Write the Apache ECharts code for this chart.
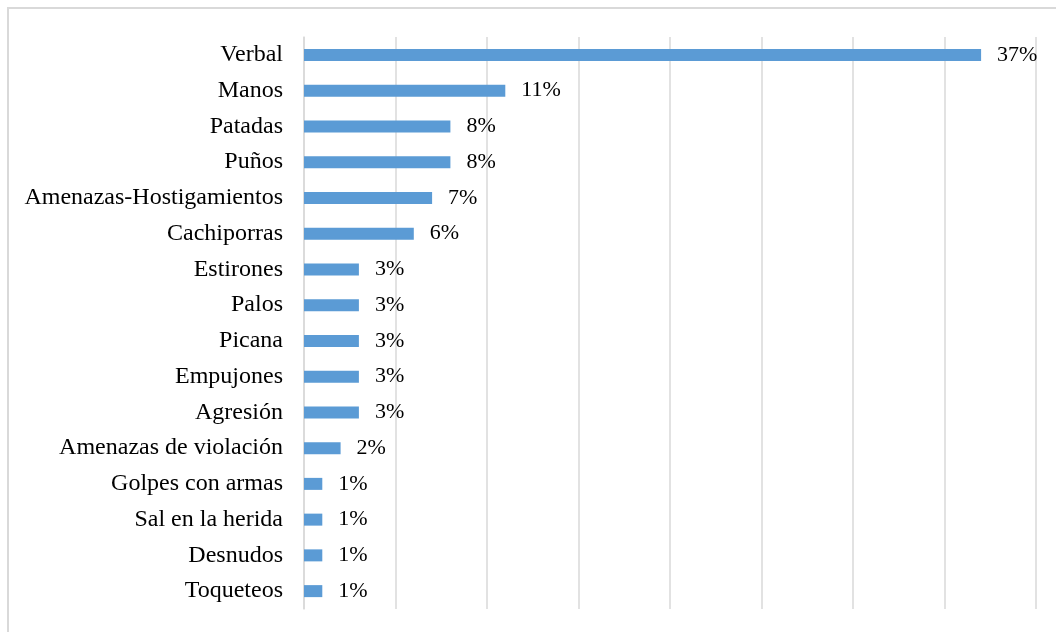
<!DOCTYPE html>
<html>
<head>
<meta charset="utf-8">
<script src="https://cdn.jsdelivr.net/npm/echarts@6/dist/echarts.min.js"></script>
<style>
  html, body { margin: 0; padding: 0; background: #fff; }
  #chart { width: 1056px; height: 632px; }
</style>
</head>
<body>
<div id="chart"></div>
<script>
// categories from top to bottom, as in the picture
const categories = [
  'Verbal', 'Manos', 'Patadas', 'Puños', 'Amenazas-Hostigamientos',
  'Cachiporras', 'Estirones', 'Palos', 'Picana', 'Empujones', 'Agresión',
  'Amenazas de violación', 'Golpes con armas', 'Sal en la herida',
  'Desnudos', 'Toqueteos'
]
const percents = [37, 11, 8, 8, 7, 6, 3, 3, 3, 3, 3, 2, 1, 1, 1, 1]

const serif = '"Liberation Serif", "DejaVu Serif", serif'
const chart = echarts.init(document.getElementById('chart'))

chart.setOption({
  animation: false,
  graphic: [{
    type: 'rect',
    shape: { x: 8, y: 8, width: 1200, height: 800 },
    style: { fill: 'none', stroke: '#d9d9d9', lineWidth: 2 },
    silent: true
  }],
  grid: { left: 304, right: 20, top: 37, bottom: 23 },
  xAxis: {
    type: 'value',
    min: 0,
    max: 40,
    interval: 5,
    axisLabel: { show: false },
    axisLine: { show: false },
    axisTick: { show: false },
    splitLine: { lineStyle: { color: '#d9d9d9', width: 1.5 } }
  },
  yAxis: {
    type: 'category',
    inverse: true,
    data: categories,
    axisTick: { show: false },
    axisLine: { show: true, lineStyle: { color: '#d9d9d9', width: 1.5 } },
    axisLabel: { color: '#000', fontFamily: serif, fontSize: 24, margin: 21 }
  },
  series: [{
    type: 'bar',
    data: percents,
    barWidth: 12,
    itemStyle: { color: '#5b9bd5' },
    label: {
      show: true,
      position: 'right',
      distance: 16,
      formatter: p => p.value + '%',
      color: '#000',
      fontFamily: serif,
      fontSize: 22
    }
  }]
})
</script>
</body>
</html>
